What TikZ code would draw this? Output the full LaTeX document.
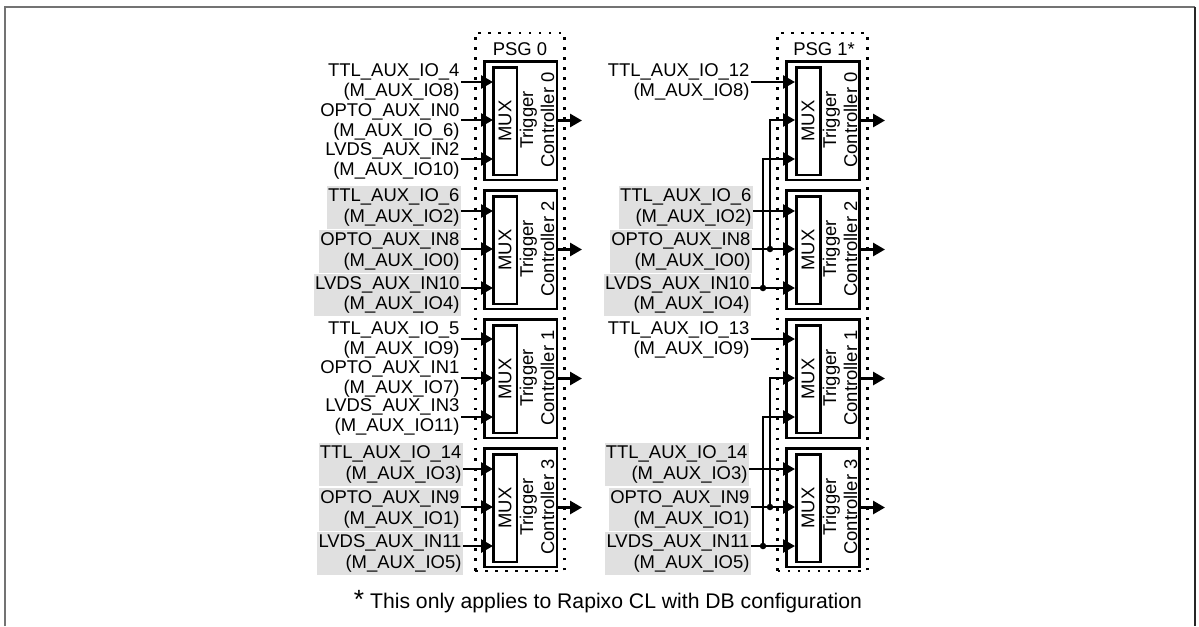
\documentclass[tikz,border=0pt]{standalone}
\usepackage{fontspec}
\setmainfont{Liberation Sans}
\usetikzlibrary{arrows.meta, positioning}

\begin{document}
\begin{tikzpicture}[
  x=0.02cm, y=-0.02cm,
  font=\fontsize{10.5}{11.9}\selectfont,
  frm/.style={draw=black!55, line width=1.1pt},
  psg/.style={rectangle, draw, line width=1.6pt, dash pattern=on 1.5pt off 4.2pt,
              minimum width=1.79cm, minimum height=10.76cm, inner sep=0pt},
  ctl/.style={rectangle, draw, line width=1.7pt, minimum width=1.46cm, minimum height=2.38cm, inner sep=0pt},
  mux/.style={rectangle, draw, line width=1.7pt, rotate=90, minimum width=2.16cm, minimum height=0.48cm, inner sep=0pt},
  ctltxt/.style={rotate=90, align=center, inner sep=0pt},
  sig/.style={anchor=east, align=right, inner xsep=0.7pt, inner ysep=1.5pt},
  siggray/.style={sig, fill=black!12},
  jdot/.style={circle, fill, inner sep=0pt, minimum size=0.13cm},
  arr/.style={-{Triangle[length=6.8pt, width=7.4pt]}, line width=1.5pt}
]
\useasboundingbox (0,0) rectangle (1199,626);
% outer frame, open at the bottom
\draw[frm] (5,626) -- (5,7) -- (1195,7);
\draw[frm, draw=black!85, line width=0.9pt] (1195,7) -- (1195,626);

% signal names, PSG 0
\node[sig]     (la0) at (461,82)  {TTL\_AUX\_IO\_4\\(M\_AUX\_IO8)};
\node[sig]     (lb0) at (461,122) {OPTO\_AUX\_IN0\\(M\_AUX\_IO\_6)};
\node[sig]     (lc0) at (461,161) {LVDS\_AUX\_IN2\\(M\_AUX\_IO10)};
\node[siggray] (la2) at (461,207.5) {TTL\_AUX\_IO\_6\\(M\_AUX\_IO2)};
\node[siggray] (lb2) at (461,251.5) {OPTO\_AUX\_IN8\\(M\_AUX\_IO0)};
\node[siggray] (lc2) at (461,295) {LVDS\_AUX\_IN10\\(M\_AUX\_IO4)};
\node[sig]     (la1) at (461,340) {TTL\_AUX\_IO\_5\\(M\_AUX\_IO9)};
\node[sig]     (lb1) at (461,379) {OPTO\_AUX\_IN1\\(M\_AUX\_IO7)};
\node[sig]     (lc1) at (461,417) {LVDS\_AUX\_IN3\\(M\_AUX\_IO11)};
\node[siggray] (la3) at (463,464.5) {TTL\_AUX\_IO\_14\\(M\_AUX\_IO3)};
\node[siggray] (lb3) at (461,509.5) {OPTO\_AUX\_IN9\\(M\_AUX\_IO1)};
\node[siggray] (lc3) at (463,553.5) {LVDS\_AUX\_IN11\\(M\_AUX\_IO5)};
% signal names, PSG 1
\node[sig]     (ra0) at (751,82)  {TTL\_AUX\_IO\_12\\(M\_AUX\_IO8)};
\node[siggray] (ra2) at (753,207.5) {TTL\_AUX\_IO\_6\\(M\_AUX\_IO2)};
\node[siggray] (rb2) at (752,251.5) {OPTO\_AUX\_IN8\\(M\_AUX\_IO0)};
\node[siggray] (rc2) at (751,295) {LVDS\_AUX\_IN10\\(M\_AUX\_IO4)};
\node[sig]     (ra1) at (751,340) {TTL\_AUX\_IO\_13\\(M\_AUX\_IO9)};
\node[siggray] (ra3) at (749,464.5) {TTL\_AUX\_IO\_14\\(M\_AUX\_IO3)};
\node[siggray] (rb3) at (751,509.5) {OPTO\_AUX\_IN9\\(M\_AUX\_IO1)};
\node[siggray] (rc3) at (751,553.5) {LVDS\_AUX\_IN11\\(M\_AUX\_IO5)};

% dotted PSG groups
\node[psg] (psg0) at (520,302) {};
\node[psg] (psg1) at (822.5,302) {};
\node (psg0txt) at (520,49) {PSG 0};
\node (psg1txt) at (824,49) {PSG 1*};

% trigger controllers, PSG 0
\node[ctl] (cl0) at (520.5,120.5) {};
\node[ctl] (cl2) at (520.5,249.5) {};
\node[ctl] (cl1) at (520.5,378.5) {};
\node[ctl] (cl3) at (520.5,507.5) {};
\node[mux] (ml0) at (505,121) {MUX};
\node[mux] (ml2) at (505,250) {MUX};
\node[mux] (ml1) at (505,379) {MUX};
\node[mux] (ml3) at (505,508) {MUX};
\node[ctltxt] (tl0) at (537,120) {Trigger\\Controller 0};
\node[ctltxt] (tl2) at (537,249) {Trigger\\Controller 2};
\node[ctltxt] (tl1) at (537,378) {Trigger\\Controller 1};
\node[ctltxt] (tl3) at (537,507) {Trigger\\Controller 3};
% trigger controllers, PSG 1
\node[ctl] (cr0) at (823,120.5) {};
\node[ctl] (cr2) at (823,249.5) {};
\node[ctl] (cr1) at (823,378.5) {};
\node[ctl] (cr3) at (823,507.5) {};
\node[mux] (mr0) at (808,121) {MUX};
\node[mux] (mr2) at (808,250) {MUX};
\node[mux] (mr1) at (808,379) {MUX};
\node[mux] (mr3) at (808,508) {MUX};
\node[ctltxt] (tr0) at (840,120) {Trigger\\Controller 0};
\node[ctltxt] (tr2) at (840,249) {Trigger\\Controller 2};
\node[ctltxt] (tr1) at (840,378) {Trigger\\Controller 1};
\node[ctltxt] (tr3) at (840,507) {Trigger\\Controller 3};

% mux input points and output ends
\coordinate (pa0) at (493,82);  \coordinate (pb0) at (493,120); \coordinate (pc0) at (493,159);
\coordinate (pa2) at (493,211); \coordinate (pb2) at (493,249); \coordinate (pc2) at (493,288);
\coordinate (pa1) at (493,339); \coordinate (pb1) at (493,378); \coordinate (pc1) at (493,417);
\coordinate (pa3) at (493,469); \coordinate (pb3) at (493,507); \coordinate (pc3) at (493,546);
\coordinate (qa0) at (795,82);  \coordinate (qb0) at (795,120); \coordinate (qc0) at (795,159);
\coordinate (qa2) at (795,211); \coordinate (qb2) at (795,249); \coordinate (qc2) at (795,288);
\coordinate (qa1) at (795,339); \coordinate (qb1) at (795,378); \coordinate (qc1) at (795,417);
\coordinate (qa3) at (795,469); \coordinate (qb3) at (795,507); \coordinate (qc3) at (795,546);
\coordinate (ol0) at (582,120.5); \coordinate (ol2) at (582,249.5);
\coordinate (ol1) at (582,378.5); \coordinate (ol3) at (582,507.5);
\coordinate (or0) at (885,120.5); \coordinate (or2) at (885,249.5);
\coordinate (or1) at (885,378.5); \coordinate (or3) at (885,507.5);

% inputs, PSG 0
\draw[arr] (pa0 -| la0.east) -- (pa0);
\draw[arr] (pb0 -| lb0.east) -- (pb0);
\draw[arr] (pc0 -| lc0.east) -- (pc0);
\draw[arr] (pa2 -| la2.east) -- (pa2);
\draw[arr] (pb2 -| lb2.east) -- (pb2);
\draw[arr] (pc2 -| lc2.east) -- (pc2);
\draw[arr] (pa1 -| la1.east) -- (pa1);
\draw[arr] (pb1 -| lb1.east) -- (pb1);
\draw[arr] (pc1 -| lc1.east) -- (pc1);
\draw[arr] (pa3 -| la3.east) -- (pa3);
\draw[arr] (pb3 -| lb3.east) -- (pb3);
\draw[arr] (pc3 -| lc3.east) -- (pc3);
% inputs, PSG 1
\draw[arr] (qa0 -| ra0.east) -- (qa0);
\draw[arr] (qa2 -| ra2.east) -- (qa2);
\draw[arr] (qb2 -| rb2.east) -- (qb2);
\draw[arr] (qc2 -| rc2.east) -- (qc2);
\draw[arr] (qa1 -| ra1.east) -- (qa1);
\draw[arr] (qa3 -| ra3.east) -- (qa3);
\draw[arr] (qb3 -| rb3.east) -- (qb3);
\draw[arr] (qc3 -| rc3.east) -- (qc3);
% shared inputs branch upwards
\node[jdot] (jb2) at (770,249) {};
\node[jdot] (jc2) at (763,288) {};
\node[jdot] (jb3) at (770,507) {};
\node[jdot] (jc3) at (763,546) {};
\draw[arr] (jb2.center) -- (jb2 |- qb0) -- (qb0);
\draw[arr] (jc2.center) -- (jc2 |- qc0) -- (qc0);
\draw[arr] (jb3.center) -- (jb3 |- qb1) -- (qb1);
\draw[arr] (jc3.center) -- (jc3 |- qc1) -- (qc1);
% outputs
\draw[arr] (cl0.east) -- (ol0);
\draw[arr] (cl2.east) -- (ol2);
\draw[arr] (cl1.east) -- (ol1);
\draw[arr] (cl3.east) -- (ol3);
\draw[arr] (cr0.east) -- (or0);
\draw[arr] (cr2.east) -- (or2);
\draw[arr] (cr1.east) -- (or1);
\draw[arr] (cr3.east) -- (or3);

\node[font=\fontsize{12.05}{14}\selectfont] (note) at (608,602) {{\fontsize{15}{15}\selectfont *} This only applies to Rapixo CL with DB configuration};
\end{tikzpicture}
\end{document}
